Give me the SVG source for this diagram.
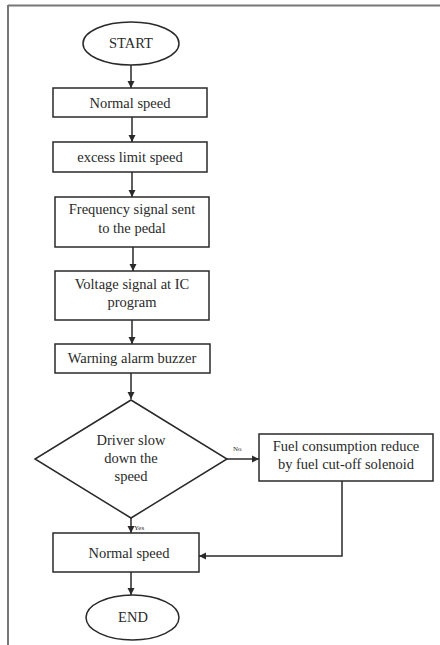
<svg xmlns="http://www.w3.org/2000/svg" width="440" height="645" viewBox="0 0 440 645">
<style>
.sh{fill:#fff;stroke:#2a2a2a;stroke-width:1.5}
.t{font-family:"Liberation Serif","Times New Roman",serif;font-size:14.5px;fill:#2a2a2a;text-anchor:middle}
.s{font-family:"Liberation Serif","Times New Roman",serif;font-size:7px;fill:#2a2a2a}
.c{fill:none;stroke:#2a2a2a;stroke-width:1.5}
</style>
<defs>
<marker id="ah" markerWidth="8" markerHeight="8" refX="7" refY="4" orient="auto" markerUnits="userSpaceOnUse">
<path d="M0,0.5 L7,4 L0,7.5 Z" fill="#2a2a2a"/>
</marker>
</defs>
<rect width="440" height="645" fill="#fff"/>
<g id="frame">
<line x1="8" y1="5.5" x2="440" y2="5.5" stroke="#777" stroke-width="2"/>
<line x1="8" y1="5" x2="8" y2="645" stroke="#777" stroke-width="2"/>
</g>
<g id="connectors">
<line class="c" x1="131" y1="65" x2="131" y2="88" marker-end="url(#ah)"/>
<line class="c" x1="132" y1="117" x2="132" y2="142" marker-end="url(#ah)"/>
<line class="c" x1="132" y1="172" x2="132" y2="197" marker-end="url(#ah)"/>
<line class="c" x1="133" y1="247" x2="133" y2="271" marker-end="url(#ah)"/>
<line class="c" x1="132" y1="320" x2="132" y2="344" marker-end="url(#ah)"/>
<line class="c" x1="131" y1="373" x2="131" y2="399" marker-end="url(#ah)"/>
<line class="c" x1="227" y1="459" x2="259" y2="459" marker-end="url(#ah)"/>
<line class="c" x1="131" y1="518" x2="131" y2="533" marker-end="url(#ah)"/>
<polyline class="c" points="342,481 342,556 199,556" marker-end="url(#ah)"/>
<line class="c" x1="131" y1="572" x2="131" y2="595" marker-end="url(#ah)"/>
<text class="s" x="233" y="451">No</text>
<text class="s" x="134" y="530">Yes</text>
</g>
<g id="start">
<ellipse class="sh" cx="131" cy="43.5" rx="48" ry="21.5"/>
<text class="t" x="131" y="48">START</text>
</g>
<g id="normal1">
<rect class="sh" x="53" y="88" width="154" height="29"/>
<text class="t" x="130" y="107.5">Normal speed</text>
</g>
<g id="excess">
<rect class="sh" x="53" y="142" width="154" height="30"/>
<text class="t" x="130" y="162">excess limit speed</text>
</g>
<g id="frequency">
<rect class="sh" x="55" y="197" width="154" height="50"/>
<text class="t" x="132" y="214">Frequency signal sent</text>
<text class="t" x="132" y="233">to the pedal</text>
</g>
<g id="voltage">
<rect class="sh" x="55" y="271" width="154" height="49"/>
<text class="t" x="132" y="289">Voltage signal at IC</text>
<text class="t" x="132" y="307">program</text>
</g>
<g id="warning">
<rect class="sh" x="55" y="344" width="155" height="29"/>
<text class="t" x="132" y="363">Warning alarm buzzer</text>
</g>
<g id="decision">
<polygon class="sh" points="131,400 227,459 131,518 35,459"/>
<text class="t" x="131" y="445">Driver slow</text>
<text class="t" x="131" y="463">down the</text>
<text class="t" x="131" y="481">speed</text>
</g>
<g id="fuel">
<rect class="sh" x="259" y="434" width="174" height="47"/>
<text class="t" x="346" y="451">Fuel consumption reduce</text>
<text class="t" x="346" y="469">by fuel cut-off solenoid</text>
</g>
<g id="normal2">
<rect class="sh" x="53" y="533" width="146" height="39"/>
<text class="t" x="129" y="558">Normal speed</text>
</g>
<g id="end">
<ellipse class="sh" cx="132.5" cy="617.5" rx="46.5" ry="22.5"/>
<text class="t" x="133" y="622">END</text>
</g>
</svg>
